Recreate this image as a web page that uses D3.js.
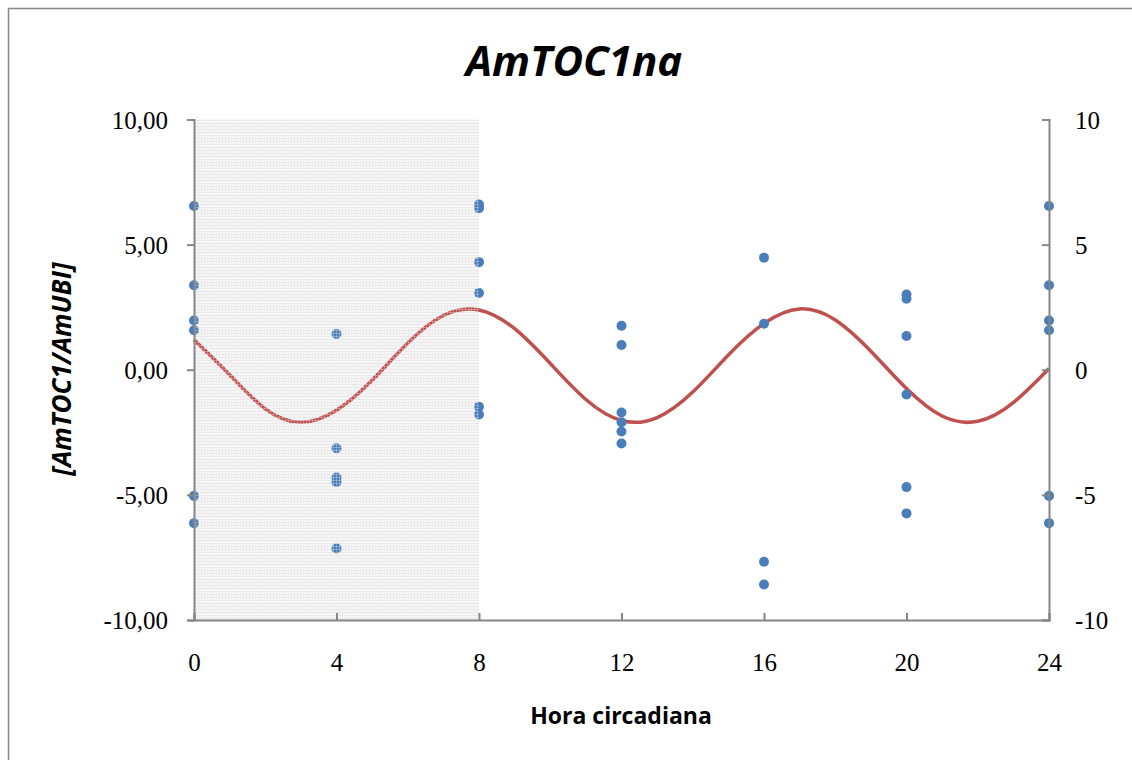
<!DOCTYPE html>
<html lang="es">
<head>
  <meta charset="UTF-8">
  <title>AmTOC1na</title>
  <style>
    body { margin: 0; background: #fff; }
    svg { display: block; }
  </style>
</head>
<body>
  <svg width="1132" height="760"></svg>
  <script src="https://d3js.org/d3.v7.min.js"></script>
  <script>

  // hours and measured values (each hour has several replicates)
  var hours0 = [0, 0, 0, 0, 0, 0];
  var vals0 = [6.54, 3.38, 1.97, 1.58, -5.04, -6.13];
  var hours4 = [4, 4, 4, 4, 4];
  var vals4 = [1.43, -3.14, -4.31, -4.49, -7.14];
  var hours8 = [8, 8, 8, 8, 8, 8];
  var vals8 = [6.6, 6.45, 4.30, 3.07, -1.48, -1.79];
  var hours12 = [12, 12, 12, 12, 12, 12];
  var vals12 = [1.76, 0.99, -1.71, -2.1, -2.47, -2.95];
  var hours16 = [16, 16, 16, 16];
  var vals16 = [4.48, 1.84, -7.67, -8.58];
  var hours20 = [20, 20, 20, 20, 20, 20];
  var vals20 = [3.01, 2.84, 1.35, -0.99, -4.69, -5.74];
  var hours24 = [24, 24, 24, 24, 24, 24];
  var vals24 = [6.54, 3.38, 1.97, 1.58, -5.04, -6.13];

  // fitted cosine curve
  var fitHours = [0, 1, 2, 3, 4, 5, 6, 7, 8, 9, 10, 11, 12, 13, 14, 15, 16, 17, 18, 19, 20, 21, 22, 23, 24];
  var fitVals = [1.2, -0.2, -1.56, -2.1, -1.62, -0.42, 1.07, 2.17, 2.39, 1.64, 0.25, -1.19, -2.03, -1.91, -0.89, 0.59, 1.85, 2.43, 1.99, 0.74, -0.75, -1.85, -2.06, -1.31, 0.05];

  var xTicks = [0, 4, 8, 12, 16, 20, 24];
  var yTicks = [-10, -5, 0, 5, 10];
  var shadeFrom = 0, shadeTo = 8;

  var svg = d3.select('svg');

  var plotLeft = 194, plotRight = 1049, plotTop = 119.5, plotBottom = 620;

  var x = d3.scaleLinear().domain([0, 24]).range([plotLeft, plotRight]);
  var y = d3.scaleLinear().domain([-10, 10]).range([plotBottom, plotTop]);
  var y2 = d3.scaleLinear().domain([-10, 10]).range([plotBottom, plotTop]);

  // outer chart border (only top and left are inside the picture)
  svg.append('rect')
    .attr('x', 8.5).attr('y', 8.5)
    .attr('width', 1200).attr('height', 900)
    .attr('fill', '#fff')
    .attr('stroke', '#868686')
    .attr('stroke-width', 1.5);

  // grid texture for the dark phase
  var defs = svg.append('defs');
  var pat = defs.append('pattern')
    .attr('id', 'grid')
    .attr('width', 3).attr('height', 3)
    .attr('patternUnits', 'userSpaceOnUse');
  pat.append('rect').attr('width', 3).attr('height', 3).attr('fill', '#f7f7f7');
  pat.append('rect').attr('width', 3).attr('height', 1).attr('fill', '#e6e6e6');
  pat.append('rect').attr('width', 1).attr('height', 3).attr('fill', '#ececec');

  var pat2 = defs.append('pattern')
    .attr('id', 'gridTop')
    .attr('width', 3).attr('height', 3)
    .attr('patternUnits', 'userSpaceOnUse');
  pat2.append('rect').attr('width', 3).attr('height', 1).attr('fill', 'rgba(235,235,235,0.35)');
  pat2.append('rect').attr('width', 1).attr('height', 3).attr('fill', 'rgba(240,240,240,0.3)');

  var g = svg.append('g');

  g.append('rect')
    .attr('x', x(shadeFrom)).attr('y', plotTop)
    .attr('width', x(shadeTo) - x(shadeFrom))
    .attr('height', plotBottom - plotTop)
    .attr('fill', 'url(#grid)');

  // points
  var pts = [];
  [[hours0, vals0], [hours4, vals4], [hours8, vals8], [hours12, vals12],
   [hours16, vals16], [hours20, vals20], [hours24, vals24]].forEach(function(s) {
    s[0].forEach(function(h, i) { pts.push({ h: h, v: s[1][i] }); });
  });

  var line = d3.line()
    .x(function(d, i) { return x(fitHours[i]); })
    .y(function(d) { return y(d); })
    .curve(d3.curveNatural);

  g.append('path')
    .datum(fitVals)
    .attr('d', line)
    .attr('fill', 'none')
    .attr('stroke', '#c0504d')
    .attr('stroke-width', 3.5);

  g.selectAll('circle')
    .data(pts)
    .enter()
    .append('circle')
    .attr('cx', function(d) { return x(d.h); })
    .attr('cy', function(d) { return y(d.v); })
    .attr('r', 5)
    .attr('fill', '#4a7ebb');

  // faint texture over the marks inside the shaded part
  g.append('rect')
    .attr('x', x(shadeFrom)).attr('y', plotTop)
    .attr('width', x(shadeTo) - x(shadeFrom))
    .attr('height', plotBottom - plotTop)
    .attr('fill', 'url(#gridTop)');

  var axisColor = '#868686';
  var dash = function(s) { return s.replace('\u2212', '-'); };

  // left axis
  var yAxis = d3.axisLeft(y).tickValues(yTicks).tickSize(7).tickPadding(19)
    .tickFormat(function(d) { return dash(d3.format('.2f')(d).replace('.', ',')); });
  var ga = svg.append('g').attr('transform', 'translate(' + plotLeft + ',0)').call(yAxis);

  // right axis, ticks point inwards
  var yAxis2 = d3.axisRight(y2).tickValues(yTicks).tickSize(-7).tickPadding(26)
    .tickFormat(function(d) { return dash(d3.format('d')(d)); });
  var gb = svg.append('g').attr('transform', 'translate(' + plotRight + ',0)').call(yAxis2);

  // bottom axis, ticks upward
  var xAxis = d3.axisBottom(x).tickValues(xTicks).tickSize(-7).tickPadding(0);
  var gc = svg.append('g').attr('transform', 'translate(0,' + plotBottom + ')').call(xAxis);

  [ga, gb, gc].forEach(function(a) {
    a.select('.domain').attr('stroke', axisColor).attr('stroke-width', 2);
    a.selectAll('.tick line').attr('stroke', axisColor).attr('stroke-width', 2);
    a.selectAll('.tick text')
      .attr('fill', '#000')
      .style('font-family', '"Liberation Serif", "DejaVu Serif", serif')
      .style('font-size', '25px');
  });
  ga.selectAll('.tick text').attr('dy', '0.35em');
  gb.selectAll('.tick text').attr('dy', '0.35em');
  gc.selectAll('.tick text').attr('y', 42).attr('dy', '0.35em');

  // titles
  svg.append('text')
    .attr('x', 574).attr('y', 76)
    .attr('text-anchor', 'middle')
    .style('font-family', '"Open Sans", "Noto Sans", sans-serif')
    .style('font-weight', 'bold')
    .style('font-style', 'italic')
    .style('font-size', '42px')
    .text('AmTOC1na');

  svg.append('text')
    .attr('transform', 'translate(62,369) rotate(-90)')
    .attr('text-anchor', 'middle')
    .attr('dy', '0.35em')
    .style('font-family', '"Open Sans", "Noto Sans", sans-serif')
    .style('font-weight', 'bold')
    .style('font-style', 'italic')
    .style('font-size', '26px')
    .text('[AmTOC1/AmUBI]');

  svg.append('text')
    .attr('x', 621).attr('y', 716)
    .attr('text-anchor', 'middle')
    .attr('dy', '0.35em')
    .style('font-family', '"Open Sans", "Noto Sans", sans-serif')
    .style('font-weight', 'bold')
    .style('font-size', '23px')
    .text('Hora circadiana');

  </script>
</body>
</html>
